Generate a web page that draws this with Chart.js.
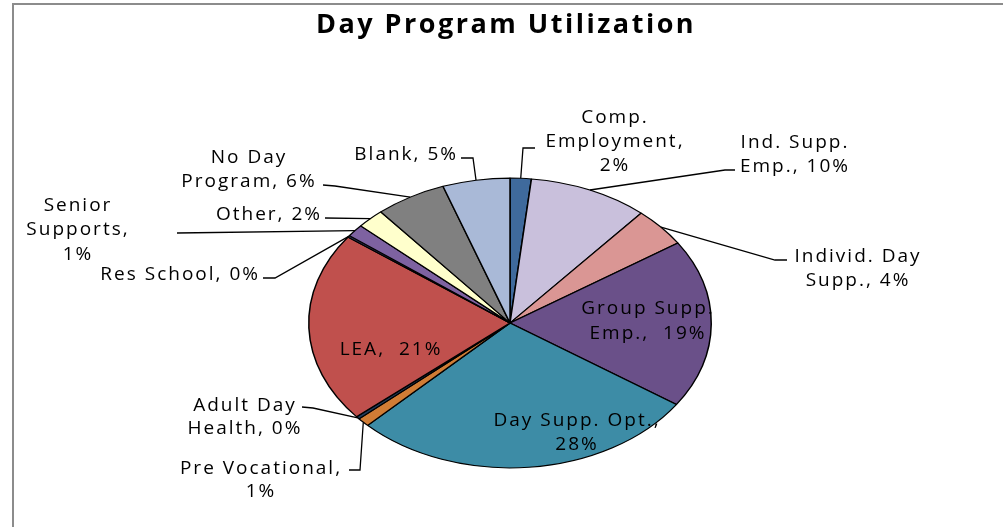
<!DOCTYPE html>
<html>
<head>
<meta charset="utf-8">
<title>Day Program Utilization</title>
<script src="https://cdn.jsdelivr.net/npm/chart.js@4/dist/chart.umd.min.js"></script>
<style>
    html, body { margin: 0; padding: 0; background: #fff; }
    #wrap { position: relative; width: 1003px; height: 527px; }
</style>
</head>
<body>
<div id="wrap"><canvas id="pieChart" width="1003" height="527"></canvas></div>
<script>
// Data (clockwise from 12 o'clock)
const categories = [
    'Comp. Employment', 'Ind. Supp. Emp.', 'Individ. Day Supp.', 'Group Supp. Emp.',
    'Day Supp. Opt.', 'Pre Vocational', 'Adult Day Health', 'LEA', 'Res School',
    'Senior Supports', 'Other', 'No Day Program', 'Blank'
];
const values = [1.7, 9.6, 4.4, 18.8, 28.0, 1.0, 0.3, 21.3, 0.2, 1.4, 2.2, 5.7, 5.4];
const sliceColors = [
    '#3f6a9c', '#c9c0dc', '#da9694', '#6a5089', '#3d8ca6', '#d07c35', '#1f3b5c',
    '#c0504d', '#2d2d50', '#7e62a1', '#ffffcc', '#808080', '#a9b9d7'
];
const chartTitle = 'Day Program Utilization';

// Label layout: text lines ({p} = percent) and leader elbows, in canvas px
const labelLayout = [
    { x: 615, ys: [118, 142, 166], lines: ['Comp.', 'Employment,', '{p}'], leader: [[523, 148], [535, 148]] },
    { x: 795, ys: [143, 167], lines: ['Ind. Supp.', 'Emp., {p}'], leader: [[725, 170], [735, 170]] },
    { x: 858, ys: [257, 281], lines: ['Individ. Day', 'Supp., {p}'], leader: [[775, 260], [787, 260]] },
    { x: 648, ys: [309, 334], lines: ['Group Supp.', 'Emp.,  {p}'] },
    { x: 577, ys: [421, 445], lines: ['Day Supp. Opt.,', '{p}'] },
    { x: 261, ys: [469, 492], lines: ['Pre Vocational,', '{p}'], leader: [[360, 470], [349, 470]] },
    { x: 245, ys: [406, 429], lines: ['Adult Day', 'Health, {p}'], leader: [[313, 408], [302, 407]] },
    { x: 391, ys: [350], lines: ['LEA,  {p}'] },
    { x: 260, ys: [275], align: 'right', lines: ['Res School, {p}'], leader: [[275, 278], [263, 278]] },
    { x: 78, ys: [206, 230, 255], lines: ['Senior', 'Supports,', '{p}'], leader: [[177, 233]] },
    { x: 322, ys: [215], align: 'right', lines: ['Other, {p}'], leader: [[325, 218]] },
    { x: 249, ys: [158, 182], lines: ['No Day', 'Program, {p}'], leader: [[335, 186], [323, 185]] },
    { x: 458, ys: [155], align: 'right', lines: ['Blank, {p}'], leader: [[473, 158], [461, 158]] }
];

const tilt = 0.72; // vertical squash of the pie
const labelFont = '19px "Open Sans", Lato, sans-serif';

// squash the pie into an ellipse
const squashPlugin = {
    id: 'squash',
    beforeDatasetsDraw(chart) {
        const arc = chart.getDatasetMeta(0).data[0];
        const ctx = chart.ctx;
        ctx.save();
        ctx.translate(arc.x, arc.y);
        ctx.scale(1, tilt);
        ctx.translate(-arc.x, -arc.y);
    },
    afterDatasetsDraw(chart) {
        chart.ctx.restore();
    }
};

// frame, title, labels and leader lines
const labelPlugin = {
    id: 'pieLabels',
    afterDraw(chart) {
        const ctx = chart.ctx;
        const meta = chart.getDatasetMeta(0);
        const total = values.reduce((a, b) => a + b, 0);

        ctx.save();
        // frame (top and left edges)
        ctx.strokeStyle = '#8c8c8c';
        ctx.lineWidth = 2;
        ctx.beginPath();
        ctx.moveTo(13, 527);
        ctx.lineTo(13, 4);
        ctx.lineTo(1003, 4);
        ctx.stroke();

        // title
        ctx.fillStyle = '#000';
        ctx.font = 'bold 27px "Open Sans", Lato, sans-serif';
        ctx.letterSpacing = '2.5px';
        ctx.textAlign = 'center';
        ctx.textBaseline = 'middle';
        ctx.fillText(chartTitle, 506, 25);

        ctx.font = labelFont;
        ctx.letterSpacing = '2px';
        ctx.strokeStyle = '#000';
        ctx.lineWidth = 1.3;
        meta.data.forEach((arc, i) => {
            const lay = labelLayout[i];
            const pct = Math.round(values[i] / total * 100) + '%';
            if (lay.leader) {
                const mid = (arc.startAngle + arc.endAngle) / 2;
                const ax = arc.x + Math.cos(mid) * arc.outerRadius;
                const ay = arc.y + Math.sin(mid) * arc.outerRadius * tilt;
                ctx.beginPath();
                ctx.moveTo(ax, ay);
                lay.leader.forEach(p => ctx.lineTo(p[0], p[1]));
                ctx.stroke();
            }
            ctx.textAlign = lay.align || 'center';
            lay.lines.forEach((t, k) => {
                ctx.fillText(t.replace('{p}', pct), lay.x, lay.ys[k]);
            });
        });
        ctx.restore();
    }
};

new Chart(document.getElementById('pieChart'), {
    type: 'pie',
    data: {
        labels: categories,
        datasets: [{
            data: values,
            backgroundColor: sliceColors,
            borderColor: '#000',
            borderWidth: 1.5
        }]
    },
    options: {
        responsive: false,
        animation: false,
        events: [],
        layout: { padding: { left: 308, right: 291, top: 121, bottom: 2 } },
        plugins: {
            legend: { display: false },
            tooltip: { enabled: false },
            title: { display: false }
        }
    },
    plugins: [squashPlugin, labelPlugin]
});
</script>
</body>
</html>
